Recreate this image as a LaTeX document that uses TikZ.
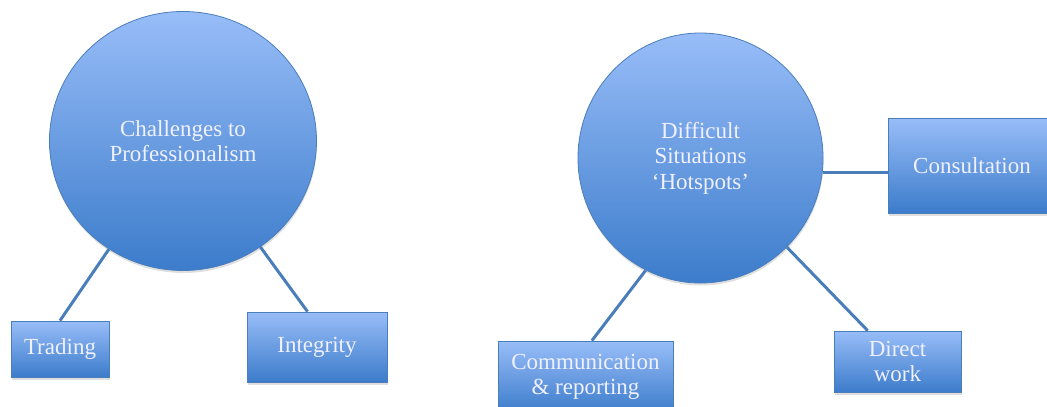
\documentclass[tikz,border=0pt]{standalone}
\usepackage{fontspec}
\setmainfont{Liberation Serif}
\usetikzlibrary{shapes.geometric,shadows}

\definecolor{cblue-top}{RGB}{152,189,248}
\definecolor{cblue-bot}{RGB}{60,124,203}
\definecolor{cblue-line}{RGB}{74,126,187}

\begin{document}
\begin{tikzpicture}[x=1pt, y=-1pt]
    \tikzset{
        cbase/.style={draw=cblue-line, line width=0.8pt, top color=cblue-top, bottom color=cblue-bot,
            text=white!94!blue, font=\fontsize{23}{25.5}\selectfont, align=center, inner sep=0pt,
            drop shadow={shadow xshift=0.5pt, shadow yshift=-2.5pt, opacity=0.25}},
        cbig/.style={cbase, ellipse},
        cbox/.style={cbase, rectangle},
        cline/.style={-, draw=cblue-line, line width=3pt},
    }

    \useasboundingbox (0, 0) rectangle (1047, 407);

    % Left group:
    \node[cbig, minimum width=267pt, minimum height=259pt] (chal) at (183, 141) {Challenges to\\Professionalism};
    \node[cbox, minimum width=98pt, minimum height=56pt] (trad) at (60, 349) {Trading};
    \node[cbox, minimum width=140pt, minimum height=70pt] (integ) at (317, 347) {Integrity};

    % Right group:
    \node[cbig, minimum width=245pt, minimum height=250pt] (hot) at (700.5, 158) {Difficult\\Situations\\‘Hotspots’};
    \node[cbox, minimum width=168pt, minimum height=95pt] (consult) at (972, 165.5) {Consultation};
    \node[cbox, minimum width=175pt, minimum height=72pt] (comm) at (585.5, 377) {Communication\\\& reporting};
    \node[cbox, minimum width=127pt, minimum height=61pt] (direct) at (897.5, 361.5) {Direct\\work};

    % Connectors:
    \draw[cline] (chal) -- (trad.north);
    \draw[cline] (chal) -- (integ.105);
    \draw[cline] (hot.244) -- (comm.80);
    \draw[cline] (hot) -- (direct.134);
    \draw[cline] (hot.353) -- (hot.353 -| consult.west);
\end{tikzpicture}
\end{document}
